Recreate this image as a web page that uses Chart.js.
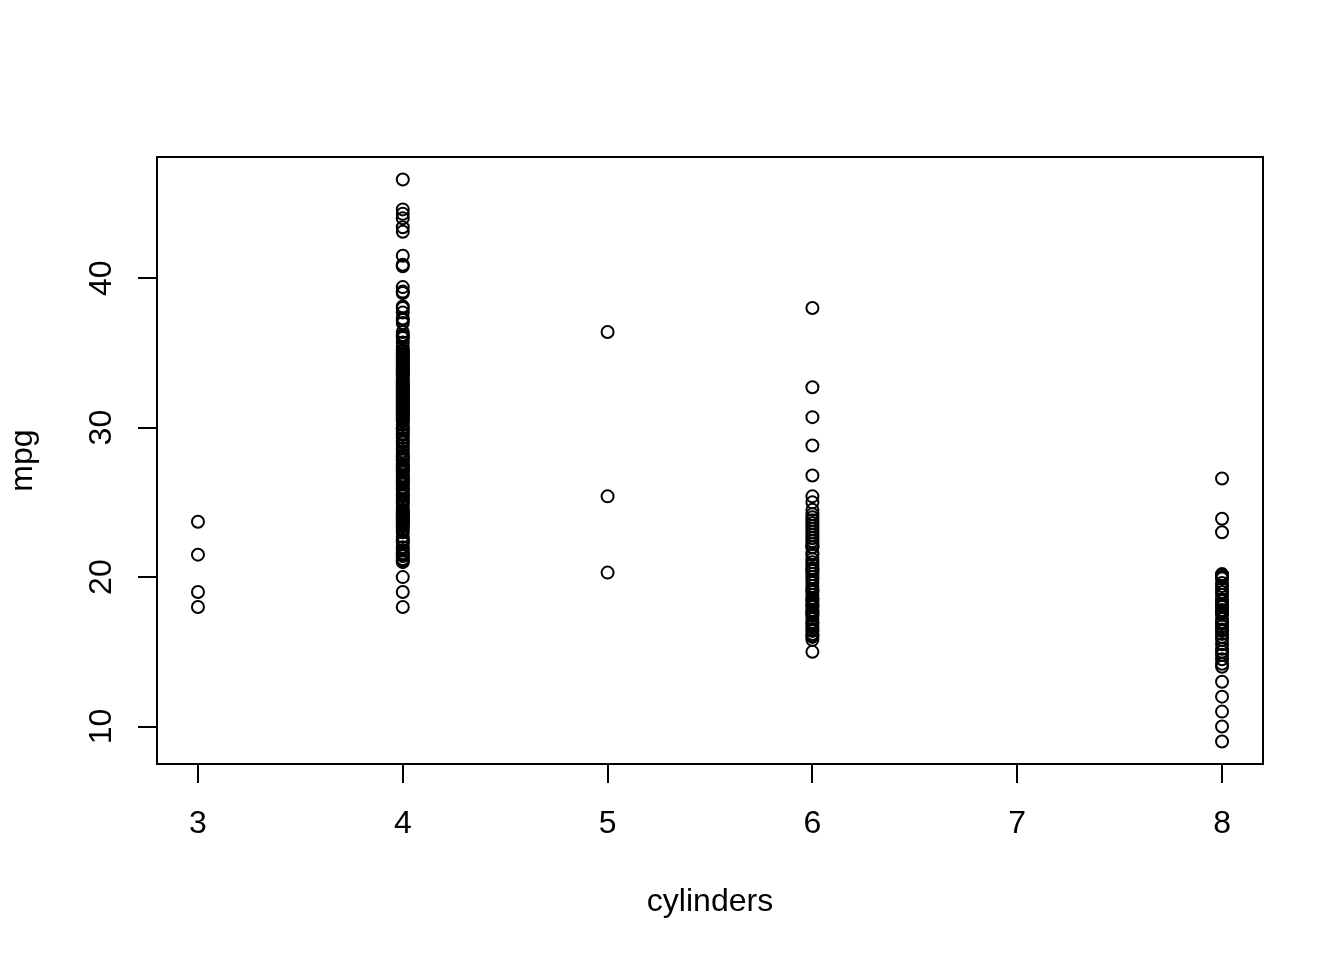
<!DOCTYPE html>
<html>
<head>
<meta charset="utf-8">
<script src="https://cdn.jsdelivr.net/npm/chart.js@4/dist/chart.umd.min.js"></script>
<style>
  html, body { margin: 0; padding: 0; background: #ffffff; }
  #wrap { width: 1344px; height: 960px; }
</style>
</head>
<body>
<div id="wrap"><canvas id="c" width="1344" height="960"></canvas></div>
<script>
// ---- data (mpg by number of cylinders, read/estimated from the picture) ----
const cylinders = [3, 4, 5, 6, 8];
const mpg3 = [18, 19, 21.5, 23.7];
const mpg4 = [46.6, 44.6, 44.3, 44.0, 43.4, 43.1, 41.5, 40.9, 40.8, 39.4, 39.1, 39.0, 38.1, 38.0, 37.7,
  37.3, 37.2, 37.0, 36.1, 36.0, 35.7, 35.1, 35.0, 34.7, 34.5, 34.4, 34.3, 34.2, 34.1, 34.0, 33.8, 33.7,
  33.5, 33.0, 32.9, 32.8, 32.4, 32.3, 32.2, 32.1, 32.0, 31.9, 31.8, 31.6, 31.5, 31.3, 31.0, 30.9, 30.7,
  30.5, 30.4, 30.0, 29.9, 29.8, 29.5, 29.0, 28.4, 28.1, 28.0, 27.9, 27.5, 27.4, 27.2, 27.0, 26.8, 26.6,
  26.5, 26.4, 26.0, 25.8, 25.5, 25.4, 25.1, 25.0, 24.5, 24.3, 24.2, 24.0, 23.9, 23.8, 23.6, 23.5, 23.0,
  22.5, 22.4, 22.0, 21.6, 21.5, 21.1, 21.0, 20.0, 19.0, 18.0,
  21.2, 21.4, 21.8, 22.3, 22.7, 23.2, 23.4, 23.7, 24.1, 24.4, 24.7, 24.9, 25.2, 25.6, 25.9, 26.2, 26.3,
  26.7, 27.1, 27.3, 27.6, 27.8, 28.2, 28.6, 28.8, 29.1, 29.3, 29.6, 30.2, 30.6, 30.8, 31.1, 31.2, 31.4,
  31.7, 32.5, 32.6, 32.7, 33.1, 33.3, 33.6, 33.9, 34.6, 34.8, 34.9, 35.2, 35.4, 36.2, 36.4];
const mpg5 = [20.3, 25.4, 36.4];
const mpg6 = [38.0, 32.7, 30.7, 28.8, 26.8, 25.4, 25.0, 24.2, 23.8, 23.2, 22.4, 22.0, 21.5, 21.0, 20.8,
  20.5, 20.2, 20.0, 19.8, 19.4, 19.2, 19.0, 18.6, 18.5, 18.2, 18.1, 18.0, 17.7, 17.6, 17.5, 17.0, 16.9,
  16.5, 16.2, 16.0, 15.8, 15.0, 24.0, 23.0, 22.0,
  16.1, 16.4, 16.7, 17.2, 17.4, 17.8, 18.4, 18.8, 19.1, 19.6, 20.4, 20.6, 21.2, 21.6, 22.2, 22.6, 22.8,
  23.4, 23.6, 24.5];
const mpg8 = [26.6, 23.9, 23.0, 20.2, 20.0, 19.9, 19.4, 19.2, 19.0, 18.5, 18.2, 18.1, 18.0, 17.7, 17.6,
  17.5, 17.0, 16.9, 16.5, 16.2, 16.0, 15.5, 15.0, 14.5, 14.0, 13.0, 12.0, 11.0, 10.0, 9.0,
  14.2, 14.8, 15.2, 15.8, 16.4, 16.7, 17.2, 17.8, 18.4, 18.8, 19.6, 20.1];
const xTicks = [3, 4, 5, 6, 7, 8];
const yTicks = [10, 20, 30, 40];
const xTitle = 'cylinders';
const yTitle = 'mpg';

// ---- build points ----
const groups = [mpg3, mpg4, mpg5, mpg6, mpg8];
const points = [];
groups.forEach((g, i) => g.forEach(v => points.push({ x: cylinders[i], y: v })));

// R-style 4% range extension
function ext(arr) {
  const lo = Math.min(...arr), hi = Math.max(...arr), d = (hi - lo) * 0.04;
  return [lo - d, hi + d];
}
const [xMin, xMax] = ext(cylinders);
const [yMin, yMax] = ext(points.map(p => p.y));

const FONT = 'Liberation Sans, Arial, Helvetica, sans-serif';

const boxPlugin = {
  id: 'rbox',
  afterDraw(chart) {
    const { ctx, chartArea: a, scales } = chart;
    ctx.save();
    ctx.strokeStyle = '#000';
    ctx.lineWidth = 2;
    ctx.strokeRect(a.left, a.top, a.right - a.left, a.bottom - a.top);
    // rotated y tick labels (R style)
    ctx.fillStyle = '#000';
    ctx.font = '32px ' + FONT;
    ctx.textAlign = 'center';
    ctx.textBaseline = 'middle';
    yTicks.forEach(v => {
      const py = scales.y.getPixelForValue(v);
      ctx.save();
      ctx.translate(102, py);
      ctx.rotate(-Math.PI / 2);
      ctx.fillText(String(v), 0, 0);
      ctx.restore();
    });
    ctx.restore();
  }
};

new Chart(document.getElementById('c'), {
  type: 'scatter',
  data: {
    datasets: [{
      data: points,
      pointStyle: 'circle',
      pointRadius: 6,
      pointHoverRadius: 6,
      pointBorderWidth: 2,
      borderColor: '#000',
      backgroundColor: 'rgba(0,0,0,0)',
      pointBackgroundColor: 'rgba(0,0,0,0)'
    }]
  },
  options: {
    responsive: false,
    animation: false,
    events: [],
    layout: { padding: { top: 157, right: 81, left: 0, bottom: 0 } },
    plugins: { legend: { display: false }, tooltip: { enabled: false } },
    scales: {
      x: {
        type: 'linear',
        min: xMin, max: xMax,
        afterBuildTicks: s => { s.ticks = xTicks.map(v => ({ value: v })); },
        afterFit: s => { s.height = 196; },
        border: { display: false },
        grid: { drawOnChartArea: false, drawTicks: true, tickLength: 19, tickWidth: 2, tickColor: '#000', lineWidth: 2, color: '#000' },
        ticks: { color: '#000', font: { family: FONT, size: 32 }, padding: 22, maxRotation: 0, autoSkip: false },
        title: { display: true, text: xTitle, color: '#000', font: { family: FONT, size: 32 }, padding: { top: 0, bottom: 39 } }
      },
      y: {
        type: 'linear',
        min: yMin, max: yMax,
        afterBuildTicks: s => { s.ticks = yTicks.map(v => ({ value: v })); },
        afterFit: s => { s.width = 157; },
        border: { display: false },
        grid: { drawOnChartArea: false, drawTicks: true, tickLength: 19, tickWidth: 2, tickColor: '#000', lineWidth: 2, color: '#000' },
        ticks: { display: false },
        title: { display: true, text: yTitle, color: '#000', font: { family: FONT, size: 32 }, padding: { top: 4, bottom: 0 } }
      }
    }
  },
  plugins: [boxPlugin]
});
</script>
</body>
</html>
